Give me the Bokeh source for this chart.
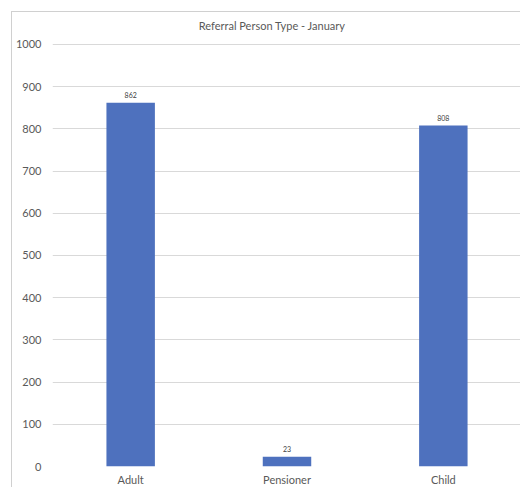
from bokeh.plotting import figure
from bokeh.models import ColumnDataSource, Range1d, FixedTicker, Label
from bokeh.core.properties import value
from bokeh.embed import file_html
from bokeh.resources import INLINE

title_text = "Referral Person Type - January"
categories = ["Adult", "Pensioner", "Child"]
counts = [862, 23, 808]
y_ticks = [0, 100, 200, 300, 400, 500, 600, 700, 800, 900, 1000]

xs = [i + 0.5 for i in range(len(categories))]
src = ColumnDataSource(dict(x=xs, top=counts, label=[str(c) for c in counts]))

FONT = "Lato"
GREY = "#595959"

# frame starts at the canvas top; the extra headroom above 1000 holds the title
p = figure(width=509, height=476, output_backend="svg", toolbar_location=None,
           x_range=Range1d(0, 3.0), y_range=Range1d(0, 1075.8),
           min_border_left=40, min_border_right=0, min_border_top=0, min_border_bottom=22)
p.margin = (11, 0, 0, 11)
p.styles = {"border-top": "1px solid #D0D0D0", "border-left": "1px solid #D0D0D0"}

title = Label(x=1.405, y=1045, text=title_text,
              text_align="center", text_baseline="middle", text_font=FONT,
              text_font_size="11px", text_color=GREY)
p.add_layout(title)

p.vbar(x="x", top="top", width=0.31, bottom=0, source=src, color="#4E71BE", line_color=None)
p.text(x="x", y="top", text="label", source=src, text_align="center", text_baseline="bottom",
       y_offset=-5, text_font=value(FONT), text_font_size="7px", text_color="#404040")

p.outline_line_color = None
p.xgrid.grid_line_color = None
p.ygrid.grid_line_color = "#D9D9D9"
p.ygrid.grid_line_width = 1

p.yaxis.ticker = FixedTicker(ticks=y_ticks)
p.xaxis.ticker = FixedTicker(ticks=xs)
p.xaxis.major_label_overrides = {x: c for x, c in zip(xs, categories)}

for ax in (p.xaxis, p.yaxis):
    ax.axis_line_color = None
    ax.major_tick_line_color = None
    ax.minor_tick_line_color = None
    ax.major_tick_out = 0
    ax.major_tick_in = 0
    ax.minor_tick_out = 0
    ax.major_label_text_font = FONT
    ax.major_label_text_font_size = "11px"
    ax.major_label_text_color = GREY
p.yaxis.major_label_standoff = 11
p.xaxis.major_label_standoff = 6

open("out.html", "w").write(file_html(p, INLINE))
